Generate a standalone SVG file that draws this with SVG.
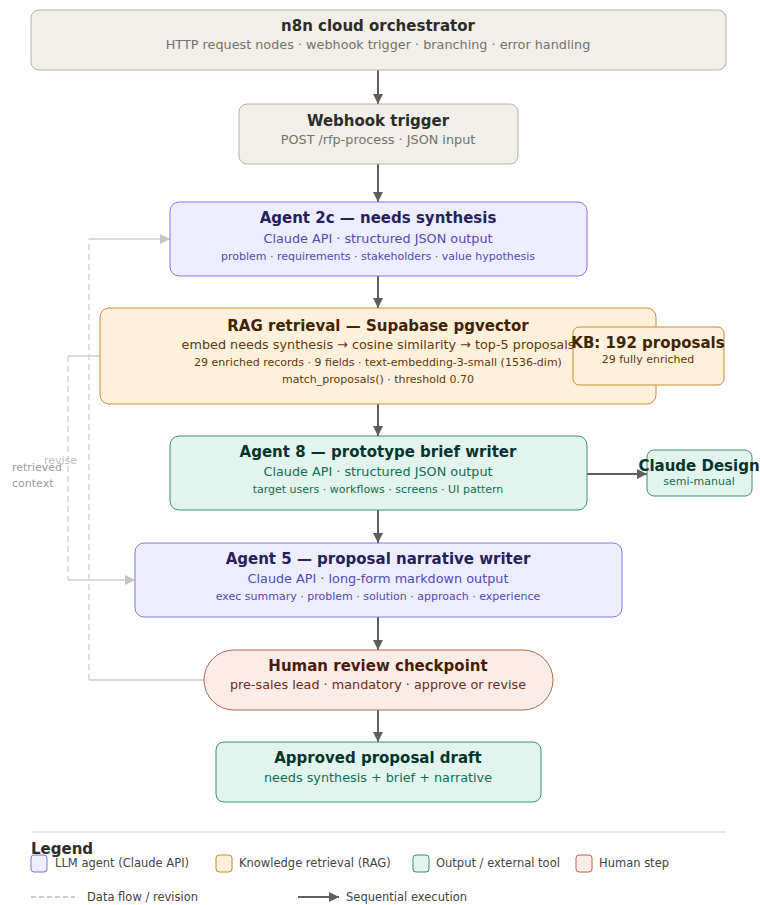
<svg xmlns="http://www.w3.org/2000/svg" width="760" height="905" viewBox="0 0 760 905">
<defs>
<marker id="ah" viewBox="0 0 10 10" refX="10" refY="5" markerWidth="10" markerHeight="10" markerUnits="userSpaceOnUse" orient="auto"><path d="M0,0 L10,5 L0,10 z" fill="#5f5e5a"/></marker>
<marker id="ahl" viewBox="0 0 10 10" refX="10" refY="5" markerWidth="10" markerHeight="10" markerUnits="userSpaceOnUse" orient="auto"><path d="M0,0 L10,5 L0,10 z" fill="#c4c4c4"/></marker>
<style>
text{font-family:"DejaVu Sans","Liberation Sans",sans-serif;text-anchor:middle;dominant-baseline:central}
.t{font-size:15px;font-weight:bold}
.s{font-size:12.8px}
.x{font-size:11px}
.gray rect{fill:#f1efe8;stroke:#b4b2a9;stroke-width:1}
.gray .t{fill:#2c2c2a}.gray .s{fill:#73726c}
.llm rect{fill:#eeedfe;stroke:#7f77dd;stroke-width:1}
.llm .t{fill:#26215c}.llm .s,.llm .x{fill:#534ab7}
.rag rect{fill:#fef1dc;stroke:#c98a2e;stroke-width:1}
.rag .t{fill:#412402}.rag .s,.rag .x{fill:#633806}
.out rect{fill:#e1f5ee;stroke:#3b8f74;stroke-width:1}
.out .t{fill:#04342c}.out .s,.out .x{fill:#0f6e56}
.hum rect{fill:#faece7;stroke:#b9674f;stroke-width:1}
.hum .t{fill:#4a1b0c}.hum .s{fill:#712b13}
.seq{stroke:#5f5e5a;stroke-width:2;fill:none;marker-end:url(#ah)}
.fl{stroke:#cfcfcf;stroke-width:1.5;fill:none}
.fd{stroke:#d6d6d6;stroke-width:1.5;fill:none;stroke-dasharray:6 4}
.lbl{font-size:11px;fill:#9a9a9a;text-anchor:start}
.leg{font-size:11.5px;fill:#444441;text-anchor:start}
</style>
</defs>
<rect width="760" height="905" fill="#ffffff"/>

<g id="connectors">
<path class="seq" d="M378,70 V104"/>
<path class="seq" d="M378,164 V202"/>
<path class="seq" d="M378,276 V308"/>
<path class="seq" d="M378,404 V436"/>
<path class="seq" d="M378,510 V543"/>
<path class="seq" d="M378,617 V650"/>
<path class="seq" d="M378,710 V742"/>
<path class="seq" d="M587,474 H647"/>
<path class="seq" d="M648,309 V326"/>
<g id="revise-loop">
<path class="fl" d="M204,680 H89"/>
<path class="fd" d="M89,680 V239"/>
<path class="fl" d="M89,239 H170" marker-end="url(#ahl)"/>
</g>
<g id="retrieved-context">
<path class="fl" d="M100,356 H68"/>
<path class="fd" d="M68,356 V580"/>
<path class="fl" d="M68,580 H135" marker-end="url(#ahl)"/>
</g>
<text class="lbl" x="44" y="460" style="fill:#c0c0c0">revise</text>
<text class="lbl" x="12" y="467">retrieved</text>
<text class="lbl" x="12" y="483">context</text>
</g>

<g id="n8n" class="gray">
<rect x="31" y="10" width="695" height="60" rx="8"/>
<text class="t" x="378" y="26">n8n cloud orchestrator</text>
<text class="s" x="378" y="44">HTTP request nodes · webhook trigger · branching · error handling</text>
</g>

<g id="webhook" class="gray">
<rect x="239" y="104" width="279" height="60" rx="8"/>
<text class="t" x="378" y="121">Webhook trigger</text>
<text class="s" x="378" y="139">POST /rfp-process · JSON input</text>
</g>

<g id="agent2c" class="llm">
<rect x="170" y="202" width="417" height="74" rx="9"/>
<text class="t" x="378" y="218">Agent 2c — needs synthesis</text>
<text class="s" x="378" y="238">Claude API · structured JSON output</text>
<text class="x" x="378" y="256">problem · requirements · stakeholders · value hypothesis</text>
</g>

<g id="rag" class="rag">
<rect x="100" y="308" width="556" height="96" rx="9"/>
<text class="t" x="378" y="326">RAG retrieval — Supabase pgvector</text>
<text class="s" x="378" y="344">embed needs synthesis → cosine similarity → top-5 proposals</text>
<text class="x" x="378" y="362">29 enriched records · 9 fields · text-embedding-3-small (1536-dim)</text>
<text class="x" x="378" y="379">match_proposals() · threshold 0.70</text>
</g>

<g id="kb" class="rag">
<rect x="573" y="327" width="151" height="58" rx="6"/>
<text class="t" x="648" y="343">KB: 192 proposals</text>
<text class="x" x="648" y="359">29 fully enriched</text>
</g>

<g id="agent8" class="out">
<rect x="170" y="436" width="417" height="74" rx="9"/>
<text class="t" x="378" y="452">Agent 8 — prototype brief writer</text>
<text class="s" x="378" y="471">Claude API · structured JSON output</text>
<text class="x" x="378" y="489">target users · workflows · screens · UI pattern</text>
</g>

<g id="claude-design" class="out">
<rect x="647" y="450" width="105" height="46" rx="7"/>
<text class="t" x="699" y="466">Claude Design</text>
<text class="x" x="699" y="481">semi-manual</text>
</g>

<g id="agent5" class="llm">
<rect x="135" y="543" width="487" height="74" rx="9"/>
<text class="t" x="378" y="559">Agent 5 — proposal narrative writer</text>
<text class="s" x="378" y="578">Claude API · long-form markdown output</text>
<text class="x" x="378" y="596">exec summary · problem · solution · approach · experience</text>
</g>

<g id="human-review" class="hum">
<rect x="204" y="650" width="349" height="60" rx="30"/>
<text class="t" x="378" y="666">Human review checkpoint</text>
<text class="s" x="378" y="684">pre-sales lead · mandatory · approve or revise</text>
</g>

<g id="approved" class="out">
<rect x="216" y="742" width="325" height="60" rx="8"/>
<text class="t" x="378" y="758">Approved proposal draft</text>
<text class="s" x="378" y="777">needs synthesis + brief + narrative</text>
</g>

<g id="legend">
<path d="M31,832 H726" stroke="#e2e2e2" stroke-width="1.5"/>
<text x="31" y="849" style="font-size:15px;font-weight:bold;fill:#2c2c2a;text-anchor:start">Legend</text>
<g class="llm"><rect x="31" y="855" width="16" height="17" rx="3"/></g>
<text class="leg" x="55" y="863">LLM agent (Claude API)</text>
<g class="rag"><rect x="216" y="855" width="16" height="17" rx="3"/></g>
<text class="leg" x="239" y="863">Knowledge retrieval (RAG)</text>
<g class="out"><rect x="413" y="855" width="16" height="17" rx="3"/></g>
<text class="leg" x="436" y="863">Output / external tool</text>
<g class="hum"><rect x="576" y="855" width="16" height="17" rx="3"/></g>
<text class="leg" x="599" y="863">Human step</text>
<path d="M31,897 H75" stroke="#bdbdbd" stroke-width="1.5" stroke-dasharray="5 3"/>
<text class="leg" x="87" y="897">Data flow / revision</text>
<path class="seq" d="M298,897 H339"/>
<text class="leg" x="346" y="897">Sequential execution</text>
</g>
</svg>
